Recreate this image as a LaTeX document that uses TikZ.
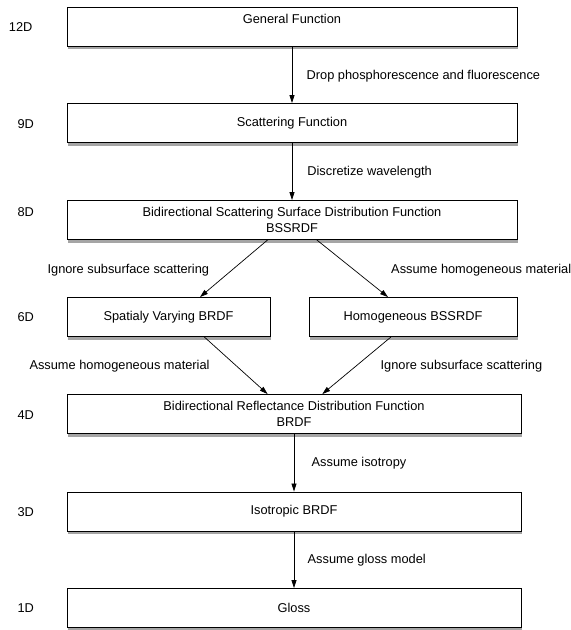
\documentclass[tikz,border=0pt]{standalone}
\usepackage{fontspec}
\setmainfont{Liberation Sans}
\usetikzlibrary{arrows.meta, positioning, shadows}

\begin{document}
\begin{tikzpicture}[x=1pt, y=1pt,
        font=\fontsize{12.8}{15.5}\selectfont,
        box/.style={draw, line width=0.9pt, fill=white, minimum height=39pt, inner sep=0pt, align=center,
            drop shadow={shadow xshift=1.2pt, shadow yshift=-3pt, opacity=0.5, fill=black!70}},
        dimlbl/.style={anchor=east},
        flow/.style={-{Triangle[length=8pt, width=5pt]}, line width=0.7pt}]
                \useasboundingbox (0,0) rectangle (571,-630);

                % Dimensions
                \node[dimlbl] (d12) at (36,-27) {12D};
                \node[dimlbl] (d9) at (37.5,-124) {9D};
                \node[dimlbl] (d8) at (37.5,-212) {8D};
                \node[dimlbl] (d6) at (37.5,-317) {6D};
                \node[dimlbl] (d4) at (37.5,-415) {4D};
                \node[dimlbl] (d3) at (37.5,-512) {3D};
                \node[dimlbl] (d1) at (37.5,-608) {1D};

                % Boxes
                \node[box, minimum width=450pt] (general) at (292,-26.5) {General Function\\ \mbox{}};
                \node[box, minimum width=450pt] (scatter) at (292,-123) {Scattering Function};
                \node[box, minimum width=450pt] (bssrdf) at (292,-220) {Bidirectional Scattering Surface Distribution Function\\BSSRDF};
                \node[box, minimum width=203pt] (svbrdf) at (168.5,-317) {Spatialy Varying BRDF};
                \node[box, minimum width=208pt] (homog) at (413,-317) {Homogeneous BSSRDF};
                \node[box, minimum width=454pt] (brdf) at (294,-414) {Bidirectional Reflectance Distribution Function\\BRDF};
                \node[box, minimum width=454pt] (iso) at (294,-511.5) {Isotropic BRDF};
                \node[box, minimum width=454pt] (gloss) at (294,-608) {Gloss};

                % Reductions
                \draw[flow] (general.south) -- node[pos=0.53, anchor=west, xshift=11pt] {Drop phosphorescence and fluorescence} (scatter.north);
                \draw[flow] (scatter.south) -- node[pos=0.52, anchor=west, xshift=11.7pt] {Discretize wavelength} (bssrdf.north);
                \draw[flow] ([xshift=-24.4pt]bssrdf.south) -- node[pos=0.53, anchor=east, xshift=-19pt] {Ignore subsurface scattering} ([xshift=31.5pt]svbrdf.north);
                \draw[flow] ([xshift=24.8pt]bssrdf.south) -- node[pos=0.53, anchor=west, xshift=33pt] {Assume homogeneous material} ([xshift=-25pt]homog.north);
                \draw[flow] ([xshift=35.8pt]svbrdf.south) -- node[pos=0.52, anchor=east, xshift=-24pt] {Assume homogeneous material} ([xshift=-26.4pt]brdf.north);
                \draw[flow] ([xshift=-22pt]homog.south) -- node[pos=0.52, anchor=west, xshift=21.7pt] {Ignore subsurface scattering} ([xshift=28.3pt]brdf.north);
                \draw[flow] (brdf.south) -- node[pos=0.51, anchor=west, xshift=14pt] {Assume isotropy} (iso.north);
                \draw[flow] (iso.south) -- node[pos=0.51, anchor=west, xshift=10pt] {Assume gloss model} (gloss.north);
            \end{tikzpicture}
\end{document}
